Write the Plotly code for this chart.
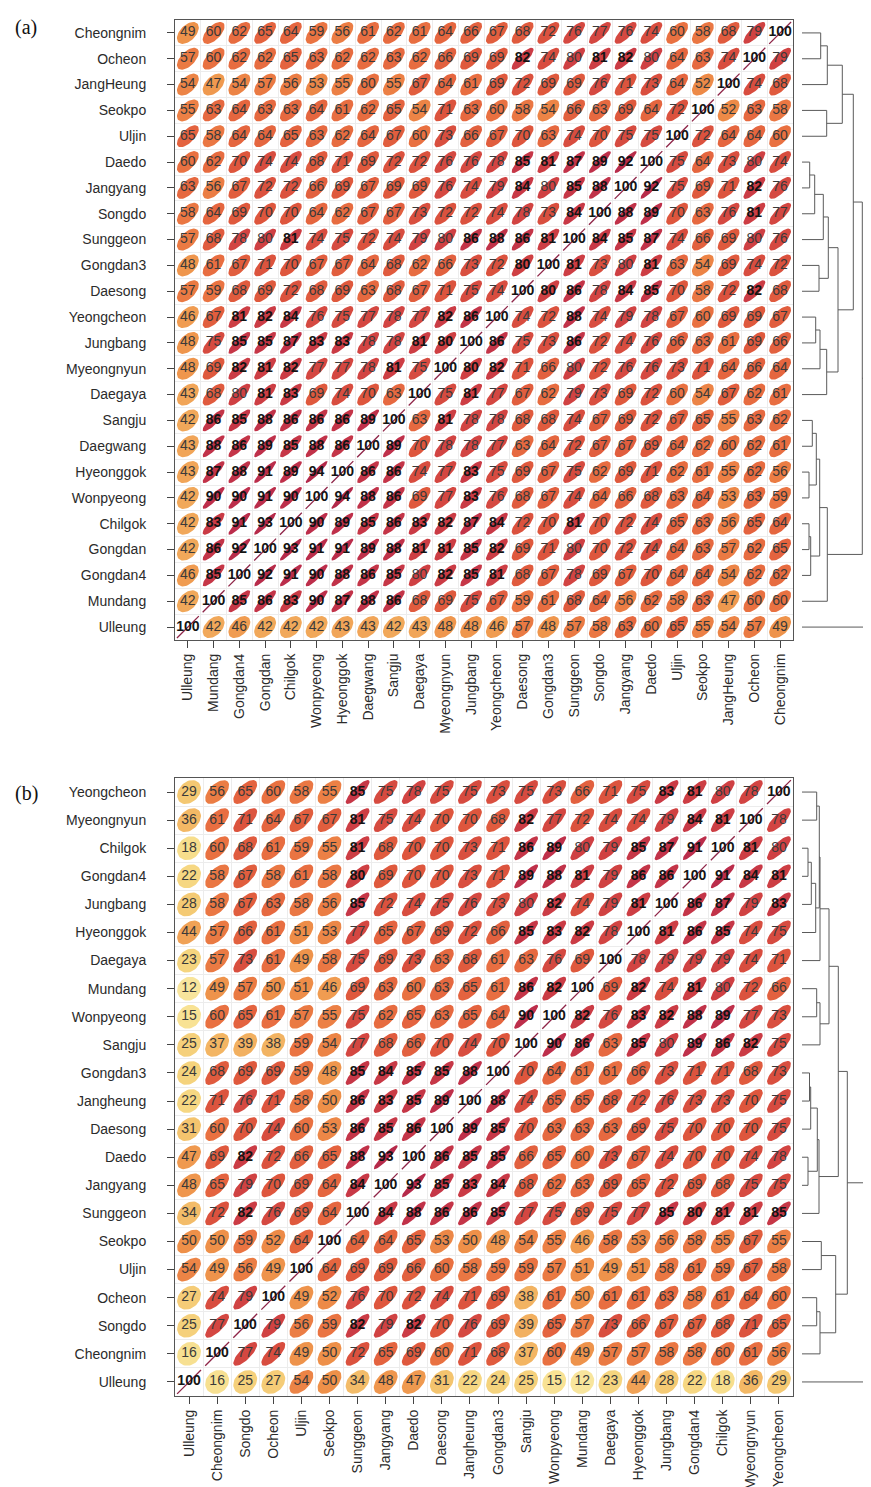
import numpy as np
import plotly.graph_objects as go

# ---------------- data: panel (a) ----------------
sites_a = ["Ulleung", "Mundang", "Gongdan4", "Gongdan", "Chilgok", "Wonpyeong", "Hyeonggok",
           "Daegwang", "Sangju", "Daegaya", "Myeongnyun", "Jungbang", "Yeongcheon", "Daesong",
           "Gongdan3", "Sunggeon", "Songdo", "Jangyang", "Daedo", "Uljin", "Seokpo", "JangHeung",
           "Ocheon", "Cheongnim"]
# lower triangle (row i, columns j < i), percent correlation
lower_a = [
    [],
    [42],
    [46, 85],
    [42, 86, 92],
    [42, 83, 91, 93],
    [42, 90, 90, 91, 90],
    [43, 87, 88, 91, 89, 94],
    [43, 88, 86, 89, 85, 88, 86],
    [42, 86, 85, 88, 86, 86, 86, 89],
    [43, 68, 79.8, 81, 83, 69, 74, 70, 63],
    [48, 69, 82, 81, 82, 77, 77, 78, 81, 75],
    [48, 75, 85, 85, 87, 83, 83, 78, 78, 81, 80.2],
    [46, 67, 81, 82, 84, 76, 75, 77, 78, 77, 82, 86],
    [57, 59, 68, 69, 72, 68, 69, 63, 68, 67, 71, 75, 74],
    [48, 61, 67, 71, 70, 67, 67, 64, 68, 62, 66, 73, 72, 80.2],
    [57, 68, 78, 79.8, 81, 74, 75, 72, 74, 79, 79.8, 86, 88, 86, 81],
    [58, 64, 69, 70, 70, 64, 62, 67, 67, 73, 72, 72, 74, 78, 73, 84],
    [63, 56, 67, 72, 72, 66, 69, 67, 69, 69, 76, 74, 79, 84, 79.8, 85, 88],
    [60, 62, 70, 74, 74, 68, 71, 69, 72, 72, 76, 76, 78, 85, 81, 87, 89, 92],
    [65, 58, 64, 64, 65, 63, 62, 64, 67, 60, 73, 66, 67, 70, 63, 74, 70, 75, 75],
    [55, 63, 64, 63, 63, 64, 61, 62, 65, 54, 71, 63, 60, 58, 54, 66, 63, 69, 64, 72],
    [54, 47, 54, 57, 56, 53, 55, 60, 55, 67, 64, 61, 69, 72, 69, 69, 76, 71, 73, 64, 52],
    [57, 60, 62, 62, 65, 63, 62, 62, 63, 62, 66, 69, 69, 82, 74, 79.8, 81, 82, 79.8, 64, 63, 74],
    [49, 60, 62, 65, 64, 59, 56, 61, 62, 61, 64, 66, 67, 68, 72, 76, 77, 76, 74, 60, 58, 68, 79],
]
# dendrogram (a): leaves = rows from top (0..23, Ulleung=23 unclustered); new nodes numbered 24+
dend_a_left = [0, 24, 3, 25, 5, 28, 29, 9, 30, 11, 33, 34, 32, 27, 15, 17, 38, 19, 41, 40, 43, 37]
dend_a_right = [1, 2, 4, 26, 6, 7, 8, 10, 31, 12, 13, 14, 35, 36, 16, 18, 39, 20, 21, 42, 22, 44]
dend_a_height = [18.7, 25.3, 24.7, 40.3, 7.7, 12.7, 21.3, 17, 26.3, 13.7, 18, 24.7, 36, 51.3,
                 10.3, 7, 14.3, 7, 8.7, 17.7, 25.3, 60.3]

# ---------------- data: panel (b) ----------------
sites_b = ["Ulleung", "Cheongnim", "Songdo", "Ocheon", "Uljin", "Seokpo", "Sunggeon", "Jangyang",
           "Daedo", "Daesong", "Jangheung", "Gongdan3", "Sangju", "Wonpyeong", "Mundang", "Daegaya",
           "Hyeonggok", "Jungbang", "Gongdan4", "Chilgok", "Myeongnyun", "Yeongcheon"]
lower_b = [
    [],
    [16],
    [25, 77],
    [27, 74, 79],
    [54, 49, 56, 49],
    [50, 50, 59, 52, 64],
    [34, 72, 82, 76, 69, 64],
    [48, 65, 79, 70, 69, 64, 84],
    [47, 69, 82, 72, 66, 65, 88, 93],
    [31, 60, 70, 74, 60, 53, 86, 85, 86],
    [22, 71, 76, 71, 58, 50, 86, 83, 85, 89],
    [24, 68, 69, 69, 59, 48, 85, 84, 85, 85, 88],
    [25, 37, 39, 38, 59, 54, 77, 68, 66, 70, 74, 70],
    [15, 60, 65, 61, 57, 55, 75, 62, 65, 63, 65, 64, 90],
    [12, 49, 57, 50, 51, 46, 69, 63, 60, 63, 65, 61, 86, 82],
    [23, 57, 73, 61, 49, 58, 75, 69, 73, 63, 68, 61, 63, 76, 69],
    [44, 57, 66, 61, 51, 53, 77, 65, 67, 69, 72, 66, 85, 83, 82, 78],
    [28, 58, 67, 63, 58, 56, 85, 72, 74, 75, 76, 73, 79.8, 82, 74, 79, 81],
    [22, 58, 67, 58, 61, 58, 80.2, 69, 70, 70, 73, 71, 89, 88, 81, 79, 86, 86],
    [18, 60, 68, 61, 59, 55, 81, 68, 70, 70, 73, 71, 86, 89, 79.8, 79, 85, 87, 91],
    [36, 61, 71, 64, 67, 67, 81, 75, 74, 70, 70, 68, 82, 77, 72, 74, 74, 79, 84, 81],
    [29, 56, 65, 60, 58, 55, 85, 75, 78, 75, 75, 73, 75, 73, 66, 71, 75, 83, 81, 79.8, 78],
]
# dendrogram (b): leaves = rows from top (0..21, Ulleung=21 unclustered); new nodes numbered 22+
dend_b_left = [2, 22, 23, 0, 25, 26, 7, 28, 27, 10, 31, 13, 32, 34, 30, 16, 18, 38, 37, 36]
dend_b_right = [3, 4, 5, 1, 24, 6, 8, 9, 29, 11, 12, 14, 33, 15, 35, 17, 19, 20, 39, 40]
dend_b_height = [6, 9.3, 13.7, 14.7, 17.3, 18, 14.7, 18, 27, 7.5, 8.7, 6, 15.3, 17, 36.3,
                 19.3, 14.7, 18, 33.7, 45.3]

# ---------------- styling ----------------
W, H = 871, 1487
FONT = "Liberation Sans, Arial, sans-serif"
color_stops = [(0.00, "#FBF0C4"), (0.10, "#F9E8A2"), (0.20, "#F6DB86"), (0.30, "#F4C670"),
               (0.40, "#F2AE5E"), (0.50, "#EE9049"), (0.60, "#E97141"), (0.70, "#DE563D"),
               (0.80, "#CF4043"), (0.90, "#BD2E4B"), (1.00, "#A52248")]


def hex2rgb(h):
    h = h.lstrip("#")
    return np.array([int(h[i:i + 2], 16) for i in (0, 2, 4)], dtype=float)


def colour(r):
    for (a, ca), (b, cb) in zip(color_stops[:-1], color_stops[1:]):
        if a <= r <= b:
            t = (r - a) / (b - a)
            c = hex2rgb(ca) * (1 - t) + hex2rgb(cb) * t
            return "rgb(%d,%d,%d)" % tuple(np.round(c))
    return color_stops[-1][1]


def full_matrix(lower):
    n = len(lower)
    M = np.full((n, n), 100.0)
    for i, row in enumerate(lower):
        for j, v in enumerate(row):
            M[i, j] = v
            M[j, i] = v
    return M


kk = np.linspace(0, 2 * np.pi, 49)


def ellipse(r):
    d = np.arccos(np.clip(r, -1, 1))
    return 0.85 * np.cos(kk + d / 2) / 2, 0.85 * np.cos(kk - d / 2) / 2


fig = go.Figure()


def add_matrix(lower, xa, ya):
    M = full_matrix(lower)
    n = M.shape[0]
    groups = {}
    for i in range(n):
        for j in range(n):
            if i == j:
                continue
            key = int(round(M[i, j]))
            groups.setdefault(key, []).append((j, i, M[i, j]))
    for key in sorted(groups):
        xs, ys = [], []
        for (j, i, v) in groups[key]:
            ex, ey = ellipse(v / 100.0)
            xs += list(j + ex) + [None]
            ys += list(i + ey) + [None]
        fig.add_trace(go.Scatter(x=xs, y=ys, mode="lines", fill="toself",
                                 fillcolor=colour(key / 100.0), line=dict(width=0),
                                 hoverinfo="skip", showlegend=False, xaxis=xa, yaxis=ya))
    # diagonal (r = 1 degenerates to a segment)
    dx, dy = [], []
    for i in range(n):
        ex, ey = ellipse(1.0)
        dx += [i + ex.min(), i + ex.max(), None]
        dy += [i + ey.min(), i + ey.max(), None]
    fig.add_trace(go.Scatter(x=dx, y=dy, mode="lines", line=dict(color="#8E2447", width=1.3),
                             hoverinfo="skip", showlegend=False, xaxis=xa, yaxis=ya))
    # numbers
    nx, ny, nt, bx, by, bt = [], [], [], [], [], []
    for i in range(n):
        for j in range(n):
            v = M[i, j]
            s = str(int(round(v)))
            if v >= 80:
                bx.append(j); by.append(i); bt.append("<b>%s</b>" % s)
            else:
                nx.append(j); ny.append(i); nt.append(s)
    fig.add_trace(go.Scatter(x=nx, y=ny, text=nt, mode="text",
                             textfont=dict(family=FONT, size=14, color="#3a3a3a"),
                             hoverinfo="skip", showlegend=False, xaxis=xa, yaxis=ya))
    fig.add_trace(go.Scatter(x=bx, y=by, text=bt, mode="text",
                             textfont=dict(family=FONT, size=14, color="#141414"),
                             hoverinfo="skip", showlegend=False, xaxis=xa, yaxis=ya))


def add_dendro(left, right, height, n, xa, ya, xmax):
    pos = {k: n - 1 - k for k in range(n)}
    hgt = {k: 0.0 for k in range(n)}
    xs, ys = [], []
    node = n
    for a, b, h in zip(left, right, height):
        for c in (a, b):
            xs += [hgt[c], h, None]
            ys += [pos[c], pos[c], None]
        xs += [h, h, None]
        ys += [pos[a], pos[b], None]
        pos[node] = (pos[a] + pos[b]) / 2
        hgt[node] = h
        node += 1
    root = node - 1
    xs += [hgt[root], xmax, None]
    ys += [pos[root], pos[root], None]
    # unclustered last row (Ulleung)
    xs += [0, xmax, None]
    ys += [0, 0, None]
    fig.add_trace(go.Scatter(x=xs, y=ys, mode="lines", line=dict(color="#5a5a5a", width=1),
                             hoverinfo="skip", showlegend=False, xaxis=xa, yaxis=ya))


add_matrix(lower_a, "x", "y")
add_matrix(lower_b, "x2", "y2")
add_dendro(dend_a_left, dend_a_right, dend_a_height, len(sites_a), "x3", "y3", 77)
add_dendro(dend_b_left, dend_b_right, dend_b_height, len(sites_b), "x4", "y4", 77)

xdom = [167 / W, 785 / W]
ydom_a = [1 - 632 / H, 1 - 12 / H]
ydom_b = [1 - 1388 / H, 1 - 770 / H]
ddom = [794 / W, 1.0]


def mat_axis(names, dom, anchor, is_x):
    n = len(names)
    d = dict(domain=dom, anchor=anchor, range=[-0.5, n - 0.5], tickmode="array",
             tickvals=list(range(n)), ticktext=names, ticks="outside", ticklen=7,
             tickwidth=1, tickcolor="#444", showline=True, mirror=True, linecolor="#555",
             linewidth=1, showgrid=False, zeroline=False,
             tickfont=dict(family=FONT, size=14, color="#2b2b2b"),
             minor=dict(tick0=0.5, dtick=1, showgrid=True, gridcolor="#ECECEC", gridwidth=1),
             fixedrange=True)
    if is_x:
        d["tickangle"] = -90
        d["ticklabelstandoff"] = 0
    else:
        d["ticklabelstandoff"] = 18
    return d


def dend_axis(dom, anchor, rng):
    return dict(domain=dom, anchor=anchor, range=rng, visible=False, showgrid=False,
                zeroline=False, fixedrange=True)


fig.update_layout(
    width=W, height=H, margin=dict(l=0, r=0, t=0, b=0),
    paper_bgcolor="white", plot_bgcolor="white", showlegend=False,
    xaxis=mat_axis(sites_a, xdom, "y", True),
    yaxis=mat_axis(sites_a, ydom_a, "x", False),
    xaxis2=mat_axis(sites_b, xdom, "y2", True),
    yaxis2=mat_axis(sites_b, ydom_b, "x2", False),
    xaxis3=dend_axis(ddom, "y3", [0, 77]),
    yaxis3=dend_axis(ydom_a, "x3", [-0.5, len(sites_a) - 0.5]),
    xaxis4=dend_axis(ddom, "y4", [0, 77]),
    yaxis4=dend_axis(ydom_b, "x4", [-0.5, len(sites_b) - 0.5]),
    annotations=[
        dict(text="(a)", x=5 / W, y=1 - 6 / H, xref="paper", yref="paper", xanchor="left",
             yanchor="top", showarrow=False,
             font=dict(family="Liberation Serif, DejaVu Serif, serif", size=20, color="#111")),
        dict(text="(b)", x=5 / W, y=1 - 772 / H, xref="paper", yref="paper", xanchor="left",
             yanchor="top", showarrow=False,
             font=dict(family="Liberation Serif, DejaVu Serif, serif", size=20, color="#111")),
    ],
)

fig.write_html("out.html")
